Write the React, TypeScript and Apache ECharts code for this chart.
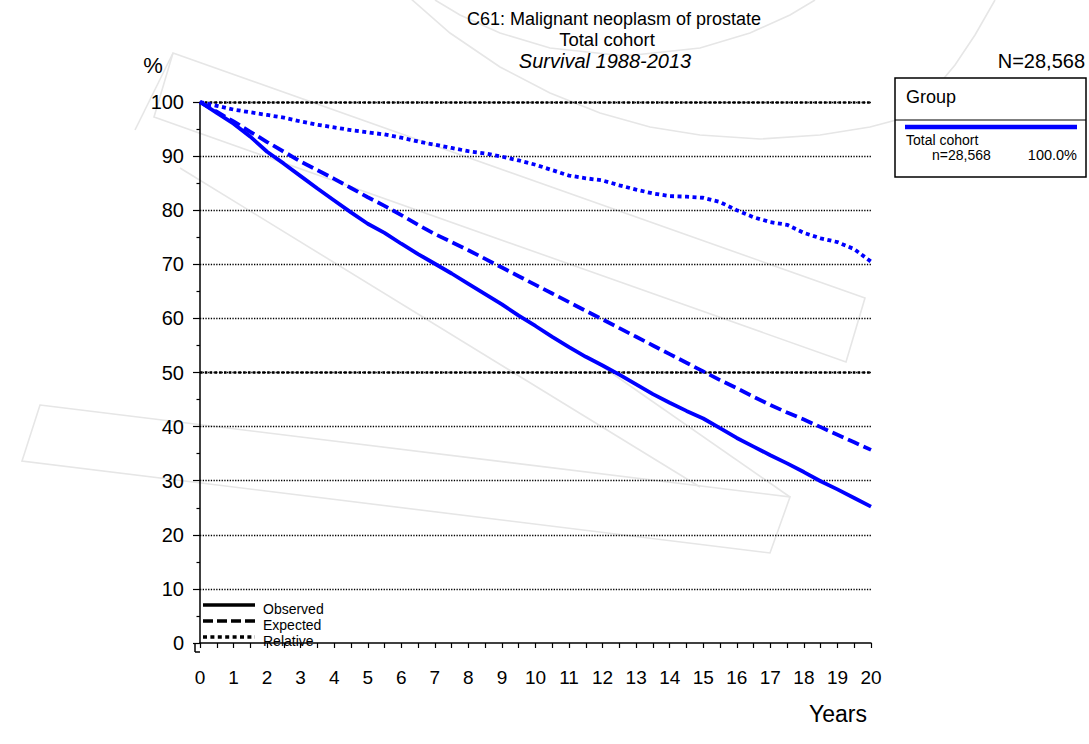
import React, { useEffect, useRef } from "react";
import * as echarts from "echarts";

const years = [0, 0.5, 1, 1.5, 2, 2.5, 3, 3.5, 4, 4.5, 5, 5.5, 6, 6.5, 7, 7.5, 8, 8.5, 9, 9.5, 10, 10.5, 11, 11.5, 12, 12.5, 13, 13.5, 14, 14.5, 15, 15.5, 16, 16.5, 17, 17.5, 18, 18.5, 19, 19.5, 20];
const observed = [100, 98.0, 96.0, 93.6, 90.8, 88.6, 86.3, 84.0, 81.8, 79.6, 77.5, 75.8, 73.8, 71.9, 70.1, 68.3, 66.4, 64.5, 62.6, 60.5, 58.6, 56.6, 54.7, 52.9, 51.3, 49.6, 47.8, 46.0, 44.4, 42.9, 41.5, 39.7, 37.9, 36.3, 34.7, 33.2, 31.6, 29.9, 28.4, 26.8, 25.2];
const expected = [100, 98.2, 96.4, 94.5, 92.6, 90.8, 89.0, 87.4, 85.8, 84.1, 82.4, 80.8, 79.1, 77.3, 75.6, 74.1, 72.6, 71.0, 69.4, 67.8, 66.2, 64.6, 63.0, 61.4, 59.8, 58.2, 56.6, 55.0, 53.4, 51.8, 50.2, 48.6, 47.1, 45.5, 44.0, 42.6, 41.3, 39.9, 38.5, 37.1, 35.7];
const relative = [100, 99.3, 98.6, 98.1, 97.6, 97.1, 96.4, 95.8, 95.3, 94.8, 94.4, 94.0, 93.4, 92.7, 92.1, 91.5, 90.9, 90.5, 89.9, 89.2, 88.4, 87.4, 86.4, 85.9, 85.5, 84.6, 83.8, 83.1, 82.6, 82.5, 82.3, 81.5, 80.0, 78.7, 77.8, 77.3, 75.8, 74.8, 74.1, 72.8, 70.5];
const refLines = [100, 50];
const legendNames = ["Observed", "Expected", "Relative"];

const FONT = "'Liberation Sans', Arial, Helvetica, sans-serif";
const BLUE = "#0000ff";
const WM = "#e6e6e6";

function wmPoly(points: number[][], closed = false) {
  return {
    type: closed ? "polygon" : "polyline",
    silent: true,
    z: -10,
    shape: { points },
    style: { fill: closed ? "none" : undefined, stroke: WM, lineWidth: 1.6 },
  };
}

export default function App() {
  const ref = useRef<HTMLDivElement>(null);
  useEffect(() => {
    if (!ref.current) return;
    const chart = echarts.init(ref.current, null, { renderer: "svg" });
    const toPts = (arr: number[]) => years.map((y, i) => [y, arr[i]]);
    const txt = (text: string, x: number, y: number, size: number, align = "left", extra: any = {}) => ({
      type: "text",
      x,
      y,
      z: 50,
      style: {
        text,
        fontFamily: FONT,
        fontSize: size,
        fill: "#000",
        textAlign: align,
        textVerticalAlign: "middle",
        ...extra,
      },
    });
    const gline = (x1: number, y1: number, x2: number, y2: number, style: any) => ({
      type: "line",
      z: 50,
      shape: { x1, y1, x2, y2 },
      style: { stroke: "#000", lineWidth: 1.5, ...style },
    });
    const option: any = {
      animation: false,
      backgroundColor: "#fff",
      grid: { left: 200, right: 218, top: 102, bottom: 101 },
      xAxis: {
        type: "value",
        min: 0,
        max: 20,
        interval: 1,
        offset: 9,
        axisLine: { show: true, lineStyle: { color: "#000", width: 1.5 } },
        axisTick: { show: true, length: 5, lineStyle: { color: "#000", width: 1.2 } },
        minorTick: { show: true, splitNumber: 2, length: 5, lineStyle: { color: "#000", width: 1.2 } },
        axisLabel: { color: "#000", fontSize: 19, fontFamily: FONT, margin: 16 },
        splitLine: { show: false },
      },
      yAxis: {
        type: "value",
        min: 0,
        max: 100,
        interval: 10,
        offset: 5,
        axisLine: { show: true, lineStyle: { color: "#000", width: 1.5 } },
        axisTick: { show: true, length: 7, lineStyle: { color: "#000", width: 1.2 } },
        minorTick: { show: true, splitNumber: 2, length: 3.5, lineStyle: { color: "#000", width: 1.2 } },
        axisLabel: { color: "#000", fontSize: 20, fontFamily: FONT, margin: 11, padding: [5, 0, 0, 0] },
        splitLine: { show: true, showMinLine: false, lineStyle: { color: "#000", width: 1.3, type: [1.3, 1.4] } },
      },
      series: [
        {
          type: "line",
          name: "refs",
          data: [],
          z: 1,
          silent: true,
          markLine: {
            silent: true,
            symbol: "none",
            label: { show: false },
            lineStyle: { color: "#000", width: 2.6, type: [2.6, 2.2] },
            data: refLines.map((v) => ({ yAxis: v })),
          },
        },
        {
          type: "line",
          name: legendNames[0],
          data: toPts(observed),
          showSymbol: false,
          z: 5,
          lineStyle: { color: BLUE, width: 3.8, type: "solid" },
        },
        {
          type: "line",
          name: legendNames[1],
          data: toPts(expected),
          showSymbol: false,
          z: 5,
          lineStyle: { color: BLUE, width: 3.8, type: [12, 5] },
        },
        {
          type: "line",
          name: legendNames[2],
          data: toPts(relative),
          showSymbol: false,
          z: 5,
          lineStyle: { color: BLUE, width: 3.8, type: [4, 3.5] },
        },
      ],
      graphic: [
        // watermark
        wmPoly([[173, 53], [865, 298], [846, 362], [154, 117]], true),
        wmPoly([[40, 405], [790, 497], [770, 553], [22, 461]], true),
        wmPoly([[180, 168], [700, 487]]),
        wmPoly([[590, 358], [790, 497]]),
        wmPoly([[135, 130], [173, 53]]),
        wmPoly([[435, 0], [460, 15], [500, 33], [550, 48], [625, 56], [700, 48], [750, 33], [790, 15], [815, 0]]),
        wmPoly([[410, -2], [450, 33], [500, 67], [550, 93], [600, 113], [650, 127], [700, 135], [760, 139], [820, 135], [870, 127], [900, 119], [930, 95], [955, 65], [975, 35], [995, 0]]),
        // axis corner
        gline(195, 643, 195, 652, { lineWidth: 1.5 }),
        gline(195, 652, 200, 652, { lineWidth: 1.5 }),
        // titles
        txt("C61: Malignant neoplasm of prostate", 614, 19, 18, "center"),
        txt("Total cohort", 607, 39, 18.5, "center"),
        txt("Survival 1988-2013", 605, 60.5, 20, "center", { fontStyle: "italic" }),
        txt("%", 153, 65, 22, "center"),
        txt("Years", 838, 714, 23, "center"),
        txt("N=28,568", 1085, 61, 20, "right"),
        // group box
        {
          type: "rect",
          z: 40,
          shape: { x: 895, y: 78, width: 191, height: 99 },
          style: { fill: "#fff", stroke: "#000", lineWidth: 1.5 },
        },
        gline(895, 120, 1086, 120, { lineWidth: 1.2 }),
        gline(905, 127, 1077, 127, { stroke: BLUE, lineWidth: 4.5 }),
        txt("Group", 906, 97, 18),
        txt("Total cohort", 906, 140, 14),
        txt("n=28,568", 932, 155, 14),
        txt("100.0%", 1077, 155, 14.5, "right"),
        // line-style legend
        gline(203, 605, 255, 605, { lineWidth: 3.5 }),
        gline(203, 621, 255, 621, { lineWidth: 3.5, lineDash: [10, 4] }),
        gline(203, 637, 255, 637, { lineWidth: 3.5, lineDash: [4, 3.4] }),
        txt(legendNames[0], 263, 609, 14),
        txt(legendNames[1], 263, 625, 14),
        txt(legendNames[2], 263, 641, 14),
      ],
    };
    chart.setOption(option);
    return () => chart.dispose();
  }, []);
  return (
    <div
      ref={ref}
      style={{ position: "fixed", left: 0, top: 0, width: 1089, height: 744, background: "#fff" }}
    />
  );
}
